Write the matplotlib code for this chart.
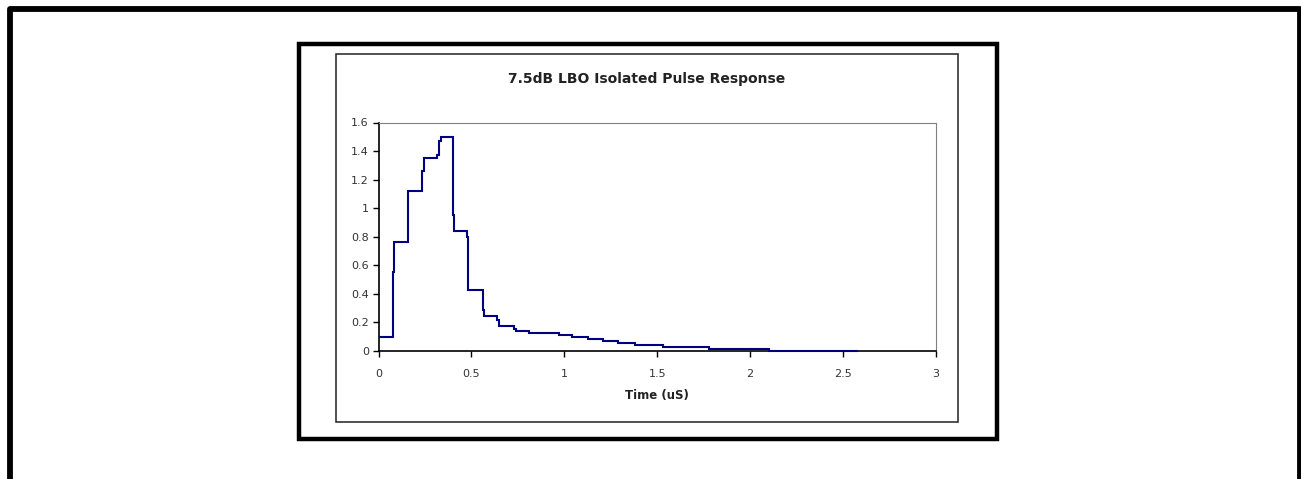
import matplotlib
matplotlib.use("Agg")
import matplotlib.pyplot as plt
from matplotlib.lines import Line2D
from matplotlib.patches import Rectangle

plt.rcParams['font.family'] = ['DejaVu Sans']

# step edges (uS) and pulse levels
time_edges = [0, 0.077, 0.085, 0.160, 0.233, 0.246, 0.316, 0.325, 0.337, 0.400,
              0.408, 0.475, 0.484, 0.560, 0.570, 0.640, 0.648, 0.730, 0.738, 0.810,
              0.970, 1.040, 1.130, 1.210, 1.290, 1.380, 1.530, 1.780, 2.100, 2.580]
response = [0.10, 0.55, 0.76, 1.12, 1.26, 1.35, 1.37, 1.47, 1.50, 0.95,
            0.84, 0.80, 0.43, 0.29, 0.245, 0.215, 0.172, 0.155, 0.143, 0.128,
            0.114, 0.097, 0.081, 0.067, 0.055, 0.041, 0.029, 0.015, 0.002]
x_ticks = [0, 0.5, 1, 1.5, 2, 2.5, 3]
x_labels = ['0', '0.5', '1', '1.5', '2', '2.5', '3']
y_ticks = [0, 0.2, 0.4, 0.6, 0.8, 1, 1.2, 1.4, 1.6]
y_labels = ['0', '0.2', '0.4', '0.6', '0.8', '1', '1.2', '1.4', '1.6']

W, H = 1301, 479
fig = plt.figure(figsize=(W / 100, H / 100), dpi=100)


def px_rect(x0, y0, x1, y1, lw, color):
    # rectangle from pixel coords (origin top-left)
    r = Rectangle((x0 / W, 1 - y1 / H), (x1 - x0) / W, (y1 - y0) / H,
                  transform=fig.transFigure, fill=False, lw=lw, edgecolor=color,
                  joinstyle='miter')
    fig.add_artist(r)


def px_line(xs, ys, lw, color):
    fig.add_artist(Line2D([x / W for x in xs], [1 - y / H for y in ys],
                          transform=fig.transFigure, lw=lw, color=color,
                          solid_capstyle='projecting'))


# outer page frame (open at the bottom)
px_line([9.8, 9.8, 1299.5, 1299.5], [H + 5, 9, 9, H + 5], 4.2, 'black')

# chart boxes
px_rect(298.5, 44, 996.5, 439, 3.2, 'black')
px_rect(335.5, 54, 958.3, 422, 1.1, '#222222')

# plot area
ax = fig.add_axes([378.5 / W, 1 - 351 / H, (936 - 378.5) / W, (351 - 122.5) / H])
ax.stairs(response, time_edges, baseline=None, color='#000080', lw=1.5,
          zorder=5, clip_on=False)

ax.set_xlim(0, 3)
ax.set_ylim(0, 1.6)
ax.set_xticks(x_ticks)
ax.set_xticklabels(x_labels)
ax.set_yticks(y_ticks)
ax.set_yticklabels(y_labels)
ax.tick_params(direction='out', length=4, width=1.0, labelsize=8,
               labelcolor='#333333', color='black')
ax.tick_params(axis='x', pad=9)
ax.tick_params(axis='y', pad=3)

for side in ['left', 'bottom']:
    ax.spines[side].set_linewidth(1.2)
    ax.spines[side].set_color('black')
for side in ['top', 'right']:
    ax.spines[side].set_linewidth(0.8)
    ax.spines[side].set_color('#808080')

ax.set_xlabel('Time (uS)', fontsize=8.5, fontweight='bold', color='#222222',
              labelpad=7)
fig.text(646.5 / W, 1 - 79 / H, '7.5dB LBO Isolated Pulse Response',
         ha='center', va='center', fontsize=10, fontweight='bold', color='#222222')

fig.savefig('out.png', dpi=100)
